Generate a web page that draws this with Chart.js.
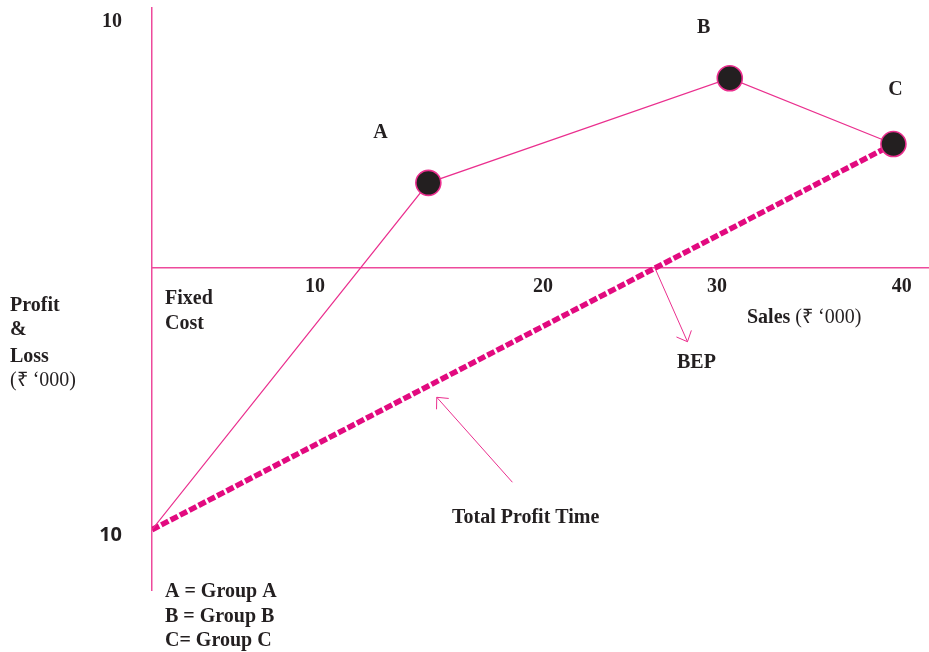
<!DOCTYPE html>
<html>
<head>
<meta charset="utf-8">
<script src="https://cdn.jsdelivr.net/npm/chart.js@4.4.1/dist/chart.umd.min.js"></script>
<style>
  html, body { margin: 0; padding: 0; background: #fff; }
  #wrap { width: 929px; height: 652px; position: relative; }
</style>
</head>
<body>
<div id="wrap"><canvas id="pv"></canvas></div>
<script>
// Profit-volume diagram, values in ₹ '000
const groupNames = ['A', 'B', 'C'];
const salesPoints = [0, 14.76, 30.86, 39.6];     // origin, A, B, C
const profitPoints = [-10, 3.23, 7.22, 4.71];
const totalLineSales = [0, 39.6];
const totalLineProfit = [-10, 4.71];
const bepArrow = [[26.85, 0], [28.6, -2.83]];
const totalArrow = [[19.25, -8.19], [15.21, -4.95]];

const xTickPos = [8.71, 20.89, 30.18, 40.05];
const xTickLabels = ['10', '20', '30', '40'];
const yTickPos = [9.38, -10.22];
const yTickLabels = ['10', '10'];

const X_MIN = 0, X_MAX = 41.5;
const Y_MIN = -12.3, Y_MAX = 9.9;

const PINK = '#ea2f8e';
const AXIS_PINK = '#ee4a9c';
const DASH_PINK = '#e20a7f';
const INK = '#231f20';
const SERIF = "'Liberation Serif', 'Times New Roman', serif";

const toXY = (xs, ys) => xs.map((x, i) => ({ x, y: ys[i] }));
const pair = (p) => p.map(([x, y]) => ({ x, y }));

// arrow heads + free text
const annotate = {
  id: 'annotate',
  afterDatasetsDraw(chart) {
    const ctx = chart.ctx;
    chart.data.datasets.forEach((ds, i) => {
      if (!ds.arrow) return;
      const pts = chart.getDatasetMeta(i).data;
      const tail = pts[0], tip = pts[pts.length - 1];
      const ang = Math.atan2(tail.y - tip.y, tail.x - tip.x);
      const len = 12, spread = Math.PI / 4.2;
      ctx.save();
      ctx.strokeStyle = PINK;
      ctx.lineWidth = 1;
      ctx.beginPath();
      ctx.moveTo(tip.x + len * Math.cos(ang - spread), tip.y + len * Math.sin(ang - spread));
      ctx.lineTo(tip.x, tip.y);
      ctx.lineTo(tip.x + len * Math.cos(ang + spread), tip.y + len * Math.sin(ang + spread));
      ctx.stroke();
      ctx.restore();
    });
  },
  afterDraw(chart) {
    const ctx = chart.ctx;
    ctx.save();
    ctx.fillStyle = INK;
    ctx.textBaseline = 'alphabetic';
    const bold = `bold 20px ${SERIF}`;
    const reg = `20px ${SERIF}`;
    const txt = (s, x, y, font, align) => {
      ctx.font = font;
      ctx.textAlign = align || 'left';
      ctx.fillText(s, x, y);
      return ctx.measureText(s).width;
    };

    // group letters above the points
    const pts = chart.getDatasetMeta(0).data;
    const offs = [[-48, -45], [-26, -45], [2, -49]];
    groupNames.forEach((g, i) => {
      const p = pts[i + 1];
      txt(g, p.x + offs[i][0], p.y + offs[i][1], bold, 'center');
    });

    txt('Profit', 10, 311, bold);
    txt('&', 10, 335, bold);
    txt('Loss', 10, 362, bold);
    txt('(₹ ‘000)', 10, 386, reg);

    txt('Fixed', 165, 304, bold);
    txt('Cost', 165, 329, bold);

    const w = txt('Sales', 747, 323, bold);
    txt(' (₹ ‘000)', 747 + w, 323, reg);

    txt('BEP', 677, 368, bold);
    txt('Total Profit Time', 452, 523, bold);

    groupNames.forEach((g, i) => {
      const sep = i === 2 ? '= ' : ' = ';
      txt(g + sep + 'Group ' + g, 165, 597 + i * 24.5, bold);
    });
    ctx.restore();
  }
};

new Chart(document.getElementById('pv'), {
  type: 'scatter',
  data: {
    datasets: [
      {
        label: 'Profit',
        data: toXY(salesPoints, profitPoints),
        showLine: true,
        borderColor: PINK,
        borderWidth: 1.2,
        pointRadius: [0, 12.5, 12.5, 12.5],
        pointBackgroundColor: INK,
        pointBorderColor: PINK,
        pointBorderWidth: 1.6,
      },
      {
        label: 'Total Profit Time',
        data: toXY(totalLineSales, totalLineProfit),
        showLine: true,
        borderColor: DASH_PINK,
        borderWidth: 5.5,
        borderDash: [8, 2.5],
        pointRadius: 0,
      },
      {
        label: 'BEP arrow',
        data: pair(bepArrow),
        showLine: true,
        arrow: true,
        borderColor: PINK,
        borderWidth: 1,
        pointRadius: 0,
      },
      {
        label: 'Total arrow',
        data: pair(totalArrow),
        showLine: true,
        arrow: true,
        borderColor: PINK,
        borderWidth: 1,
        pointRadius: 0,
      },
    ],
  },
  options: {
    responsive: true,
    maintainAspectRatio: false,
    animation: false,
    layout: { autoPadding: false, padding: { left: 0, right: 0, top: 8, bottom: 62 } },
    plugins: {
      legend: { display: false },
      tooltip: { enabled: false },
    },
    scales: {
      x: {
        type: 'linear',
        min: X_MIN,
        max: X_MAX,
        position: { y: 0 },
        grid: { display: false, drawTicks: false },
        border: { display: true, color: AXIS_PINK, width: 1.5 },
        afterBuildTicks: (scale) => { scale.ticks = xTickPos.map(v => ({ value: v })); },
        afterFit: (scale) => { scale.paddingLeft = 0; scale.paddingRight = 0; },
        ticks: {
          autoSkip: false,
          maxRotation: 0,
          padding: 7,
          color: INK,
          font: { family: SERIF, size: 20, weight: 'bold' },
          callback: (v, i) => xTickLabels[i],
        },
      },
      y: {
        type: 'linear',
        min: Y_MIN,
        max: Y_MAX,
        position: 'left',
        grid: { display: false, drawTicks: false },
        border: { display: true, color: AXIS_PINK, width: 1.5 },
        afterBuildTicks: (scale) => { scale.ticks = yTickPos.map(v => ({ value: v })); },
        afterFit: (scale) => {
          scale.width = 152;
          scale.paddingTop = 0;
          scale.paddingBottom = 0;
        },
        ticks: {
          autoSkip: false,
          padding: 30,
          color: INK,
          font: (c) => c.index === 0
            ? { family: SERIF, size: 20, weight: 'bold' }
            : { family: "'Open Sans', sans-serif", size: 20, weight: 'bold' },
          callback: (v, i) => yTickLabels[i],
        },
      },
    },
  },
  plugins: [annotate],
});
</script>
</body>
</html>
